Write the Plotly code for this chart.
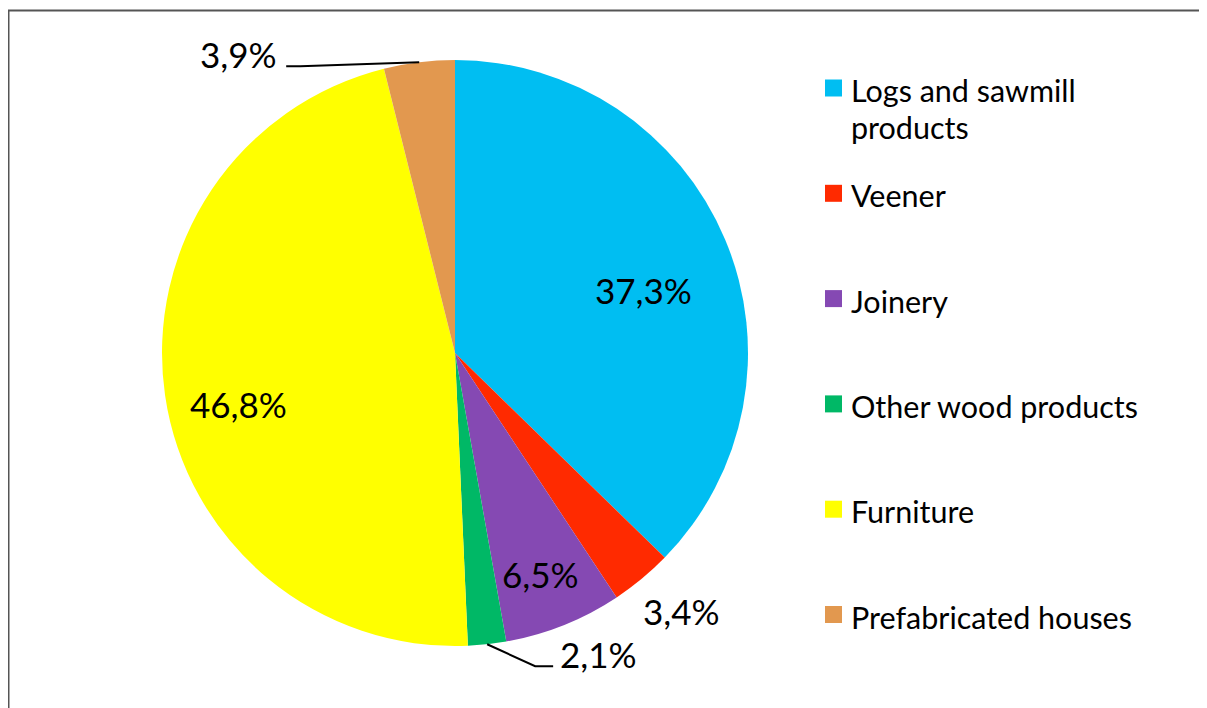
import math
import plotly.graph_objects as go

W, H = 1207, 708

categories = ["Logs and sawmill<br>products", "Veener", "Joinery",
              "Other wood products", "Furniture", "Prefabricated houses"]
values = [37.3, 3.4, 6.5, 2.1, 46.8, 3.9]
value_labels = ["37,3%", "3,4%", "6,5%", "2,1%", "46,8%", "3,9%"]
colors = ["#00BEF2", "#FF2A00", "#8549B3", "#00B866", "#FFFF00", "#E2984F"]

FONT = "Lato, Carlito, Calibri, 'Open Sans', sans-serif"

# page offset of the plot inside the html body
OFF = 8
# pie geometry (screen pixels)
CX, CY, R = 455, 353, 293


def px(x):
    return (x - OFF) / W


def py(y):
    return 1 - (y - OFF) / H


fig = go.Figure(go.Pie(
    labels=categories, values=values, sort=False, direction="clockwise",
    rotation=0, marker=dict(colors=colors, line=dict(width=0)),
    textinfo="none", hoverinfo="label+percent", showlegend=False,
    domain=dict(x=[px(CX - R), px(CX + R)], y=[py(CY + R), py(CY - R)]),
))

total = sum(values)
mids = []
cum = 0
for v in values:
    mids.append((cum + v / 2) / total * 2 * math.pi)
    cum += v


def polar(i, f):
    a = mids[i]
    return CX + f * R * math.sin(a), CY - f * R * math.cos(a)


annotations = []
shapes = []
LABEL_FONT = dict(family=FONT, size=35, color="#000000")

# label placement style: (radial factor, x shift, y shift)
label_style = {0: (0.68, 5, 14), 1: (1.17, 8, -6), 2: (0.81, -3, 1), 4: (0.76, 4, 19)}
for i, (f, dx, dy) in label_style.items():
    x, y = polar(i, f)
    annotations.append(dict(x=px(x + dx), y=py(y + dy), xref="paper", yref="paper",
                            xanchor="center", yanchor="middle",
                            text=value_labels[i], showarrow=False, font=LABEL_FONT))

# leader-line labels
leaders = {3: ((48, 22), (18, 0), "left"), 5: ((-119, 4), (-14, 0), "right")}
for i, ((ex, ey), (hx, hy), side) in leaders.items():
    x0, y0 = polar(i, 1.0)
    x1, y1 = x0 + ex, y0 + ey
    x2, y2 = x1 + hx, y1 + hy
    shapes.append(dict(type="path", xref="paper", yref="paper",
                       path=f"M {px(x0)},{py(y0)} L {px(x1)},{py(y1)} L {px(x2)},{py(y2)}",
                       line=dict(color="#000000", width=2)))
    annotations.append(dict(x=px(x2 + (5 if side == "left" else -7)), y=py(y2 - 12),
                            xref="paper", yref="paper", xanchor=side, yanchor="middle",
                            text=value_labels[i], showarrow=False, font=LABEL_FONT))

# legend drawn manually
LEG_X, LEG_Y0, LEG_DY, SQ, LINE_H = 825, 88, 105.3, 17, 37
for i, (cat, col) in enumerate(zip(categories, colors)):
    yc = LEG_Y0 + i * LEG_DY
    shapes.append(dict(type="rect", xref="paper", yref="paper",
                       x0=px(LEG_X), x1=px(LEG_X + SQ), y0=py(yc + SQ / 2), y1=py(yc - SQ / 2),
                       fillcolor=col, line=dict(width=0)))
    for k, line in enumerate(cat.split("<br>")):
        annotations.append(dict(x=px(LEG_X + 24), y=py(yc + 2 + k * LINE_H),
                                xref="paper", yref="paper",
                                xanchor="left", yanchor="middle", align="left",
                                text=line, showarrow=False,
                                font=dict(family=FONT, size=30.5, color="#000000")))

# chart frame (left and top edges visible)
FRAME = dict(color="#555555", width=2)
shapes.append(dict(type="line", xref="paper", yref="paper",
                   x0=px(8.5), x1=px(8.5), y0=py(10.5), y1=-0.5, line=FRAME))
shapes.append(dict(type="line", xref="paper", yref="paper",
                   x0=px(7.5), x1=1.5, y0=py(10.5), y1=py(10.5), line=FRAME))

fig.update_layout(width=W, height=H, margin=dict(l=0, r=0, t=0, b=0),
                  paper_bgcolor="#FFFFFF", plot_bgcolor="#FFFFFF",
                  annotations=annotations, shapes=shapes,
                  font=dict(family=FONT))

fig.write_html("out.html")
